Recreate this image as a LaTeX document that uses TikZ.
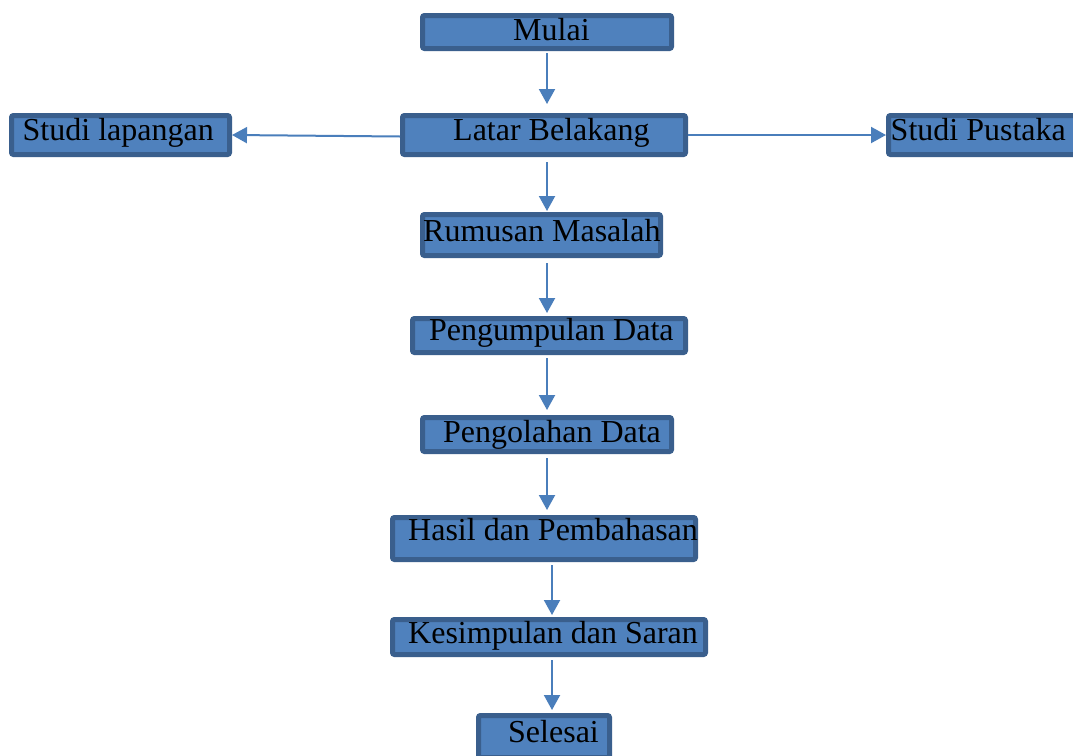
\documentclass[tikz,border=0pt]{standalone}
\usepackage{fontspec}
\setmainfont{Liberation Serif}
\usetikzlibrary{arrows.meta}
\definecolor{boxfill}{HTML}{4F81BD}
\definecolor{boxline}{HTML}{3A5F8D}
\definecolor{arrowc}{HTML}{4A7EBB}
\begin{document}
\begin{tikzpicture}[x=1pt,y=-1pt,
  box/.style={draw=boxline,fill=boxfill,line width=5pt,rounded corners=2pt,inner sep=0pt},
  txt/.style={anchor=base west,inner sep=0pt,font=\fontsize{32}{38}\selectfont,text=black},
  arr/.style={draw=arrowc,line width=2pt,-{Triangle[length=15pt,width=16pt]}}]
\useasboundingbox[fill=white] (0,0) rectangle (1073,755);
% boxes
\node[box,minimum width=249pt,minimum height=33pt] (mulai) at (547,32) {};
\node[box,minimum width=283pt,minimum height=39pt] (latar) at (544,135) {};
\node[box,minimum width=218pt,minimum height=39pt] (lap) at (120.5,135) {};
\node[box,minimum width=199pt,minimum height=39pt] (pus) at (988,135) {};
\node[box,minimum width=238pt,minimum height=41pt] (rum) at (541.5,235) {};
\node[box,minimum width=273pt,minimum height=34pt] (kum) at (549,335.5) {};
\node[box,minimum width=249pt,minimum height=34pt] (olah) at (547,434.5) {};
\node[box,minimum width=303pt,minimum height=42pt] (hasil) at (544,538.5) {};
\node[box,minimum width=313pt,minimum height=35pt] (kes) at (549,637) {};
\node[box,minimum width=131pt,minimum height=42pt] (sel) at (544,736.5) {};
% texts
\node[txt] (tmulai) at (513,40) {Mulai};
\node[txt] (tlatar) at (453,140) {Latar Belakang};
\node[txt] (tlap) at (22.5,140) {Studi lapangan};
\node[txt] (tpus) at (890.5,140) {Studi Pustaka};
\node[txt] (trum) at (423,241) {Rumusan Masalah};
\node[txt] (tkum) at (429,340) {Pengumpulan Data};
\node[txt] (tolah) at (443,442) {Pengolahan Data};
\node[txt] (thasil) at (408,540) {Hasil dan Pembahasan};
\node[txt] (tkes) at (408,643) {Kesimpulan dan Saran};
\node[txt] (tsel) at (508,742) {Selesai};
% arrows
\coordinate (xa) at (547,0);
\coordinate (xb) at (552,0);
\draw[arr,shorten <=2pt,shorten >=9pt] (mulai.south -| xa) -- (latar.north -| xa);
\draw[arr,shorten <=5pt,shorten >=1pt] (latar.south -| xa) -- (rum.north -| xa);
\draw[arr,shorten <=5pt,shorten >=3pt] (rum.south -| xa) -- (kum.north -| xa);
\draw[arr,shorten <=3pt,shorten >=5pt] (kum.south -| xa) -- (olah.north -| xa);
\draw[arr,shorten <=4pt,shorten >=5pt] (olah.south -| xa) -- (hasil.north -| xa);
\draw[arr,shorten <=3pt,shorten >=2pt] (hasil.south -| xb) -- (kes.north -| xb);
\draw[arr,shorten <=3pt,shorten >=3pt] (kes.south -| xb) -- (sel.north -| xb);
\draw[arr] ([yshift=-1.5pt]latar.west) -- (lap.east);
\draw[arr] (latar.east) -- (pus.west);
\end{tikzpicture}
\end{document}
